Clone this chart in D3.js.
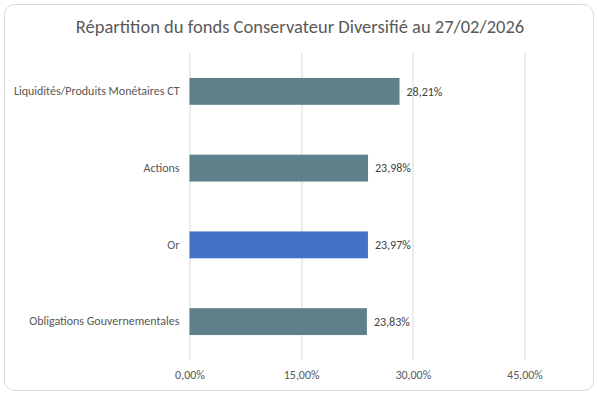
<!DOCTYPE html>
<html>
<head>
<meta charset="utf-8">
<script src="https://cdn.jsdelivr.net/npm/d3@7"></script>
<style>
  html, body { margin: 0; padding: 0; background: #fff; }
  svg { display: block; font-family: Carlito, Calibri, "Open Sans", sans-serif; }
</style>
</head>
<body>
<div id="root"></div>
<script>
// chart values
const categories = [
  "Liquidités/Produits Monétaires CT",
  "Actions",
  "Or",
  "Obligations Gouvernementales"
];
const values = [28.21, 23.98, 23.97, 23.83];
const highlight = ["Or"];
const xTicks = [0, 15, 30, 45];
const title = "Répartition du fonds Conservateur Diversifié au 27/02/2026";

const width = 597,
  height = 395,
  margin = { left: 189.5, top: 53, right: 72.5, bottom: 35 };

const fmt = (v) => v.toFixed(2).replace(".", ",") + "%";

const svg = d3.select("#root")
  .append("svg")
  .attr("width", width)
  .attr("height", height)
  .attr("viewBox", [0, 0, width, height]);

// outer frame
svg.append("rect")
  .attr("x", 4.5)
  .attr("y", 4.5)
  .attr("width", 589)
  .attr("height", 386)
  .attr("rx", 10)
  .attr("fill", "#fff")
  .attr("stroke", "#d9d9d9");

svg.append("text")
  .attr("x", 300)
  .attr("y", 33)
  .attr("text-anchor", "middle")
  .attr("fill", "#595959")
  .style("font-size", "18.5px")
  .text(title);

// substract the margins before using the height and width
const contentWidth = width - margin.left - margin.right;
const contentHeight = height - margin.top - margin.bottom;

const x = d3.scaleLinear()
  .domain([0, 45])
  .range([0, contentWidth]);

const y = d3.scaleBand()
  .domain(categories)
  .range([0, contentHeight])
  .paddingInner(0.65)
  .paddingOuter(0.325);

const container = svg.append("g")
  .attr("transform", `translate(${margin.left}, ${margin.top})`);

// gridlines
container.append("g")
  .selectAll("line")
  .data(xTicks)
  .join("line")
  .attr("x1", (d) => Math.round(x(d)) + 0.5)
  .attr("x2", (d) => Math.round(x(d)) + 0.5)
  .attr("y1", 0)
  .attr("y2", contentHeight)
  .attr("stroke", "#d9d9d9");

// x axis labels
const xAxis = container.append("g")
  .attr("transform", `translate(0, ${contentHeight})`)
  .call(d3.axisBottom(x).tickValues(xTicks).tickFormat(fmt).tickSize(0).tickPadding(10))
  .attr("font-family", null)
  .attr("font-size", 12);
xAxis.select(".domain").remove();
xAxis.selectAll("text").attr("fill", "#595959");

// y axis labels
const yAxis = container.append("g")
  .call(d3.axisLeft(y).tickSize(0).tickPadding(10))
  .attr("font-family", null)
  .attr("font-size", 12);
yAxis.select(".domain").remove();
yAxis.selectAll("text").attr("fill", "#595959");

// bars
container.append("g")
  .selectAll("rect")
  .data(categories)
  .join("rect")
  .attr("x", 0)
  .attr("y", (d) => y(d))
  .attr("width", (d, i) => x(values[i]))
  .attr("height", y.bandwidth())
  .attr("fill", (d) => highlight.includes(d) ? "#4472c4" : "#5f7f8a");

// value labels
container.append("g")
  .selectAll("text")
  .data(categories)
  .join("text")
  .attr("x", (d, i) => x(values[i]) + 7)
  .attr("y", (d) => y(d) + y.bandwidth() / 2)
  .attr("dy", "0.35em")
  .attr("fill", "#404040")
  .style("font-size", "12px")
  .text((d, i) => fmt(values[i]));
</script>
</body>
</html>
